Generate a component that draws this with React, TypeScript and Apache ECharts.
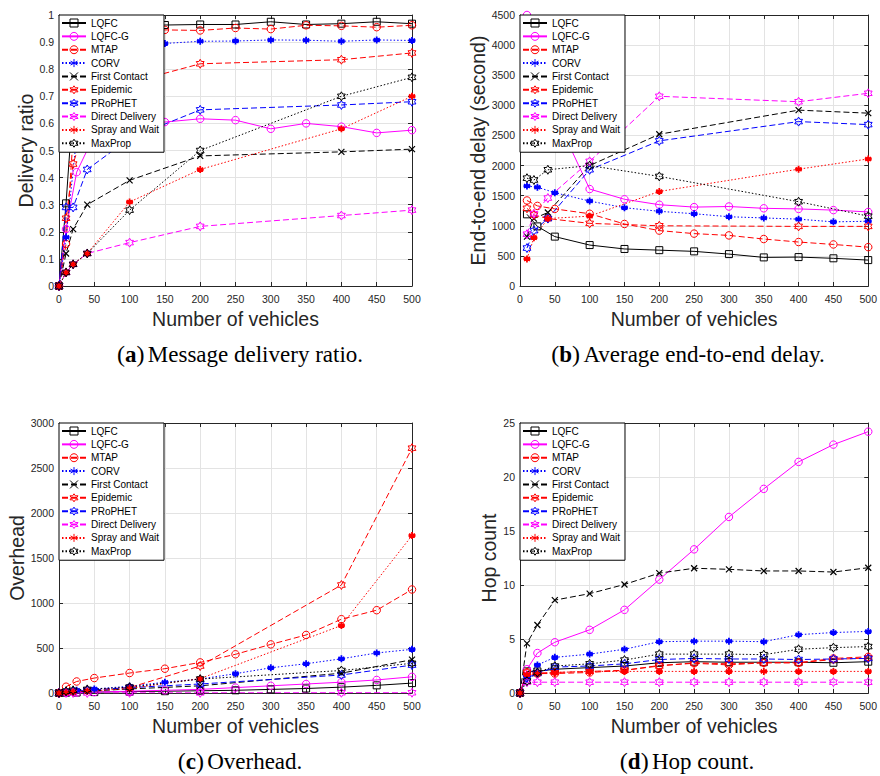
import React, { useEffect, useRef } from "react";
import * as echarts from "echarts";

// ---------- Data ----------
const NAMES = ["LQFC", "LQFC-G", "MTAP", "CORV", "First Contact", "Epidemic", "PRoPHET", "Direct Delivery", "Spray and Wait", "MaxProp"];

// x positions
const X_DENSE_0 = [0, 10, 25, 50, 100, 150, 200, 250, 300, 350, 400, 450, 500];
const X_SPARSE_0 = [0, 10, 20, 40, 100, 200, 400, 500];
const X_DENSE = [10, 25, 50, 100, 150, 200, 250, 300, 350, 400, 450, 500];
const X_SPARSE = [10, 20, 40, 100, 200, 400, 500];

// (a) Delivery ratio
const ratioLQFC = [0, 0.305, 0.86, 0.93, 0.955, 0.963, 0.965, 0.965, 0.975, 0.965, 0.968, 0.975, 0.968];
const ratioLQFCG = [0, 0.21, 0.42, 0.556, 0.59, 0.605, 0.617, 0.612, 0.58, 0.6, 0.588, 0.565, 0.575];
const ratioMTAP = [0, 0.155, 0.75, 0.88, 0.93, 0.945, 0.943, 0.952, 0.948, 0.962, 0.96, 0.955, 0.962];
const ratioCORV = [0, 0.18, 0.55, 0.8, 0.87, 0.895, 0.903, 0.904, 0.908, 0.907, 0.903, 0.908, 0.906];
const ratioFC = [0, 0.12, 0.21, 0.3, 0.39, 0.48, 0.495, 0.505];
const ratioEpidemic = [0, 0.25, 0.45, 0.62, 0.75, 0.82, 0.835, 0.86];
const ratioPRoPHET = [0, 0.29, 0.29, 0.43, 0.545, 0.65, 0.668, 0.68];
const ratioDD = [0, 0.05, 0.08, 0.12, 0.16, 0.22, 0.26, 0.28];
const ratioSpray = [0, 0.05, 0.08, 0.12, 0.31, 0.43, 0.58, 0.7];
const ratioMaxProp = [0, 0.05, 0.08, 0.12, 0.28, 0.5, 0.7, 0.77];

// (b) End-to-end delay
const delayLQFC = [1190, 990, 820, 680, 615, 595, 575, 530, 475, 480, 460, 430];
const delayLQFCG = [4500, 3800, 2850, 1610, 1440, 1350, 1310, 1320, 1290, 1280, 1260, 1230];
const delayMTAP = [1420, 1330, 1280, 1200, 1030, 920, 870, 840, 780, 730, 690, 645];
const delayCORV = [1660, 1640, 1550, 1410, 1300, 1240, 1200, 1150, 1130, 1110, 1065, 1075];
const delayFC = [820, 1120, 1220, 2000, 2520, 2920, 2870];
const delayEpidemic = [1290, 1180, 1120, 1040, 1000, 990, 990];
const delayPRoPHET = [630, 920, 1120, 1930, 2410, 2730, 2680];
const delayDD = [860, 1200, 1460, 2070, 3150, 3060, 3200];
const delaySpray = [450, 800, 1120, 1160, 1570, 1940, 2110];
const delayMaxProp = [1790, 1760, 1930, 2000, 1820, 1400, 1160];

// (c) Overhead
const ohLQFC = [0, 3, 5, 10, 15, 20, 25, 30, 40, 50, 65, 85, 110];
const ohLQFCG = [0, 3, 5, 10, 20, 30, 40, 60, 80, 100, 120, 145, 180];
const ohMTAP = [0, 70, 128, 166, 222, 270, 340, 430, 540, 645, 820, 920, 1150];
const ohCORV = [0, 20, 30, 45, 75, 120, 155, 215, 280, 325, 380, 445, 485];
const ohFC = [0, 5, 10, 20, 45, 80, 220, 370];
const ohEpidemic = [0, 10, 15, 30, 60, 300, 1200, 2720];
const ohPRoPHET = [0, 10, 20, 30, 60, 100, 200, 310];
const ohDD = [0, 1, 1, 1, 2, 2, 3, 3];
const ohSpray = [0, 5, 10, 20, 50, 160, 750, 1750];
const ohMaxProp = [0, 20, 30, 40, 65, 155, 250, 330];

// (d) Hop count
const hopLQFC = [0, 2.0, 2.0, 2.2, 2.35, 2.5, 2.8, 2.9, 2.85, 2.85, 2.85, 2.8, 2.9];
const hopLQFCG = [0, 2.2, 3.7, 4.7, 5.85, 7.7, 10.5, 13.3, 16.3, 18.9, 21.4, 23.0, 24.2];
const hopMTAP = [0, 1.9, 1.8, 1.8, 1.9, 2.1, 2.55, 2.75, 2.6, 2.8, 2.8, 3.2, 3.35];
const hopCORV = [0, 1.5, 2.6, 3.3, 3.6, 4.05, 4.75, 4.8, 4.8, 4.75, 5.4, 5.6, 5.7];
const hopFC = [0, 4.6, 6.3, 8.6, 9.2, 10.05, 11.1, 11.55, 11.45, 11.3, 11.3, 11.2, 11.6];
const hopEpidemic = [0, 1.9, 1.85, 1.9, 2.0, 2.1, 2.5, 2.8, 2.7, 2.8, 2.8, 3.1, 3.25];
const hopPRoPHET = [0, 1.4, 1.8, 2.4, 2.5, 2.7, 3.1, 3.2, 3.15, 3.15, 3.1, 3.15, 3.2];
const hopDD = [0, 1, 1, 1, 1, 1, 1, 1, 1, 1, 1, 1, 1];
const hopSpray = [0, 1.7, 1.75, 1.9, 2.0, 2.0, 2.0, 2.0, 2.0, 2.0, 2.0, 2.0, 2.0];
const hopMaxProp = [0, 1.1, 1.9, 2.5, 2.7, 3.05, 3.6, 3.6, 3.6, 3.55, 4.05, 4.2, 4.3];

// ---------- Styles ----------
const COLORS = ["#000000", "#ff00ff", "#ff0000", "#0000ff", "#000000", "#ff0000", "#0000ff", "#ff00ff", "#ff0000", "#000000"];
const DASHES: any[] = ["solid", "solid", [6, 3], [1.5, 2], [6, 3], [6, 3], [6, 3], [6, 3], [1.5, 2], [1.5, 2]];
const HEX = "path://M50 0L35.57 25L6.7 25L21.13 50L6.7 75L35.57 75L50 100L64.43 75L93.3 75L78.87 50L93.3 25L64.43 25Z";
const XMARK = "path://M0 0L10 10M10 0L0 10";
const AST = "path://M5 0L5 10M0.7 2.5L9.3 7.5M0.7 7.5L9.3 2.5M0 5L10 5";
const SYMBOLS = ["rect", "circle", "circle", AST, XMARK, HEX, HEX, HEX, AST, HEX];
const SIZES = [7, 7.5, 7.5, 7, 6, 9, 9, 9, 7, 9];
const BW = [1, 1, 1, 1.8, 1.2, 1, 1, 1, 1.8, 1];

const AX = "#262626";
const GRIDC = "#e3e3e3";
const SANS = "Liberation Sans, Arial, Helvetica, sans-serif";
const SERIF = "Liberation Serif, Times New Roman, serif";

const PANELS = [
  {
    grid: { left: 59, top: 15, width: 353, height: 271 },
    y: { min: 0, max: 1, interval: 0.1, name: "Delivery ratio", gap: 23.5 },
    xs: [X_DENSE_0, X_DENSE_0, X_DENSE_0, X_DENSE_0, X_SPARSE_0, X_SPARSE_0, X_SPARSE_0, X_SPARSE_0, X_SPARSE_0, X_SPARSE_0],
    ys: [ratioLQFC, ratioLQFCG, ratioMTAP, ratioCORV, ratioFC, ratioEpidemic, ratioPRoPHET, ratioDD, ratioSpray, ratioMaxProp],
  },
  {
    grid: { left: 520, top: 15, width: 352, height: 271 },
    y: { min: 0, max: 4500, interval: 500, name: "End-to-end delay (second)", gap: 32.5 },
    xs: [X_DENSE, X_DENSE, X_DENSE, X_DENSE, X_SPARSE, X_SPARSE, X_SPARSE, X_SPARSE, X_SPARSE, X_SPARSE],
    ys: [delayLQFC, delayLQFCG, delayMTAP, delayCORV, delayFC, delayEpidemic, delayPRoPHET, delayDD, delaySpray, delayMaxProp],
  },
  {
    grid: { left: 59, top: 423, width: 353, height: 270 },
    y: { min: 0, max: 3000, interval: 500, name: "Overhead", gap: 32.5 },
    xs: [X_DENSE_0, X_DENSE_0, X_DENSE_0, X_DENSE_0, X_SPARSE_0, X_SPARSE_0, X_SPARSE_0, X_SPARSE_0, X_SPARSE_0, X_SPARSE_0],
    ys: [ohLQFC, ohLQFCG, ohMTAP, ohCORV, ohFC, ohEpidemic, ohPRoPHET, ohDD, ohSpray, ohMaxProp],
  },
  {
    grid: { left: 520, top: 423, width: 352, height: 270 },
    y: { min: 0, max: 25, interval: 5, name: "Hop count", gap: 20.5 },
    xs: [X_DENSE_0, X_DENSE_0, X_DENSE_0, X_DENSE_0, X_DENSE_0, X_DENSE_0, X_DENSE_0, X_DENSE_0, X_DENSE_0, X_DENSE_0],
    ys: [hopLQFC, hopLQFCG, hopMTAP, hopCORV, hopFC, hopEpidemic, hopPRoPHET, hopDD, hopSpray, hopMaxProp],
  },
];

const CAPTIONS = [
  { letter: "a", text: "Message delivery ratio.", x: 240, y: 354 },
  { letter: "b", text: "Average end-to-end delay.", x: 688, y: 354 },
  { letter: "c", text: "Overhead.", x: 240, y: 761 },
  { letter: "d", text: "Hop count.", x: 687, y: 761 },
];

const fmt = (v: number) => String(Math.round(v * 1000) / 1000);

function buildOption() {
  const grid: any[] = [];
  const xAxis: any[] = [];
  const yAxis: any[] = [];
  const series: any[] = [];
  const legend: any[] = [];
  const tick = { show: true, inside: true, length: 4, lineStyle: { color: AX, width: 1 } };
  const line = { show: true, onZero: false, lineStyle: { color: AX, width: 1 } };

  PANELS.forEach((p, gi) => {
    grid.push({ ...p.grid, containLabel: false });
    const xb = { type: "value", gridIndex: gi, min: 0, max: 500, interval: 50 };
    xAxis.push({
      ...xb,
      position: "bottom",
      axisLine: line,
      axisTick: tick,
      axisLabel: { fontSize: 10.5, color: AX, margin: 7, fontFamily: SANS, formatter: fmt },
      splitLine: { show: true, lineStyle: { color: GRIDC, width: 1 } },
      name: "Number of vehicles",
      nameLocation: "middle",
      nameGap: 23,
      nameTextStyle: { fontSize: 19.5, color: AX, fontFamily: SANS },
    });
    xAxis.push({ ...xb, position: "top", axisLine: line, axisTick: tick, axisLabel: { show: false }, splitLine: { show: false } });
    const yb = { type: "value", gridIndex: gi, min: p.y.min, max: p.y.max, interval: p.y.interval };
    yAxis.push({
      ...yb,
      position: "left",
      axisLine: line,
      axisTick: tick,
      axisLabel: { fontSize: 10.5, color: AX, margin: 5, fontFamily: SANS, formatter: fmt },
      splitLine: { show: true, lineStyle: { color: GRIDC, width: 1 } },
      name: p.y.name,
      nameLocation: "middle",
      nameGap: p.y.gap,
      nameTextStyle: { fontSize: 19.5, color: AX, fontFamily: SANS },
    });
    yAxis.push({ ...yb, position: "right", axisLine: line, axisTick: tick, axisLabel: { show: false }, splitLine: { show: false } });

    NAMES.forEach((name, si) => {
      const xs = p.xs[si];
      const ys = p.ys[si];
      series.push({
        type: "line",
        name,
        xAxisIndex: gi * 2,
        yAxisIndex: gi * 2,
        data: xs.map((x, k) => [x, ys[k]]),
        symbol: SYMBOLS[si],
        symbolSize: SIZES[si],
        symbolKeepAspect: true,
        showAllSymbol: true,
        lineStyle: { color: COLORS[si], width: 1, type: DASHES[si] },
        itemStyle: { color: "rgba(0,0,0,0)", borderColor: COLORS[si], borderWidth: BW[si] },
        emphasis: { disabled: true },
        z: 2,
      });
    });

    legend.push({
      orient: "vertical",
      left: p.grid.left,
      top: p.grid.top,
      itemWidth: 24,
      itemHeight: 10,
      itemGap: 3.36,
      padding: [3, 5, 4, 2],
      borderColor: "#000",
      borderWidth: 1,
      backgroundColor: "#fff",
      selectedMode: false,
      textStyle: { fontSize: 10, color: "#000", fontFamily: SANS },
      itemStyle: { borderWidth: 1 },
      data: NAMES,
      z: 10,
    });
  });

  const graphic = CAPTIONS.map((c) => ({
    type: "text",
    x: c.x,
    y: c.y,
    style: {
      text: `{p|(}{b|${c.letter}}{p|)} {t|${c.text}}`,
      align: "center",
      verticalAlign: "middle",
      fill: "#000",
      rich: {
        p: { fontFamily: SERIF, fontSize: 24, fill: "#000" },
        b: { fontFamily: SERIF, fontSize: 23, fontWeight: "bold", fill: "#000" },
        t: { fontFamily: SERIF, fontSize: 23, fill: "#000" },
      },
    },
  }));

  return {
    animation: false,
    backgroundColor: "#fff",
    grid,
    xAxis,
    yAxis,
    series,
    legend,
    graphic,
  };
}

export default function App() {
  const ref = useRef<HTMLDivElement>(null);
  useEffect(() => {
    const chart = echarts.init(ref.current!, null, { renderer: "svg" });
    chart.setOption(buildOption() as any);
    return () => chart.dispose();
  }, []);
  return <div ref={ref} style={{ position: "fixed", left: 0, top: 0, width: 880, height: 776, background: "#fff" }} />;
}
